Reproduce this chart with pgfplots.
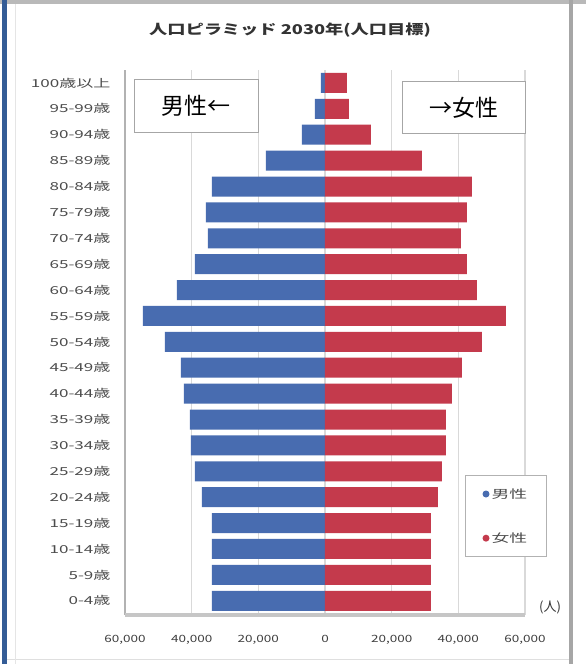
\documentclass[border=0pt]{standalone}
\usepackage{fontspec}
\setmainfont{Noto Sans CJK JP}
\newfontfamily\jpw[FakeStretch=1.35]{Noto Sans CJK JP}
\newfontfamily\jpww[FakeStretch=1.55]{Noto Sans CJK JP}
\usepackage{pgfplots}
\pgfplotsset{compat=1.18}
\usepackage{pgfplotstable}

\definecolor{male}{RGB}{72,108,176}
\definecolor{female}{RGB}{196,58,76}
\definecolor{frameblue}{RGB}{52,92,150}

\pgfplotstableread{
idx male female
0 -33900 31800
1 -33900 31800
2 -33900 31800
3 -33900 31800
4 -36900 33900
5 -39000 35100
6 -40200 36300
7 -40500 36300
8 -42300 38100
9 -43200 41100
10 -48000 47100
11 -54600 54300
12 -44400 45600
13 -39000 42600
14 -35100 40800
15 -35700 42600
16 -33900 44100
17 -17700 29100
18 -6900 13800
19 -3000 7200
20 -1200 6600
}\pyr

\begin{document}
\begin{tikzpicture}
\path[use as bounding box] (0pt,0pt) rectangle (586pt,664pt);
\fill[white] (0pt,0pt) rectangle (586pt,664pt);
% frame
\fill[gray!55] (0pt,660pt) rectangle (586pt,664pt);
\fill[frameblue] (2pt,0pt) rectangle (7pt,664pt);
\fill[gray!70] (569pt,0pt) rectangle (573pt,664pt);
\draw[gray!25,line width=1pt] (7pt,4pt) -- (569pt,4pt);
\draw[gray!20,line width=1pt] (15pt,0pt) -- (15pt,660pt);
% title
\node[font=\jpw\bfseries\fontsize{13.5}{13.5}\selectfont, text=black!80] at (290pt,634pt) {人口ピラミッド 2030年(人口目標)};
\begin{axis}[
  at={(125pt,49pt)}, anchor=south west,
  scale only axis, width=400pt, height=545pt,
  xmin=-60000, xmax=60000, ymin=-0.55, ymax=20.5,
  xbar, bar width=20pt, bar shift=0pt,
  axis line style={draw=none},
  xtick={-60000,-40000,-20000,0,20000,40000,60000},
  xticklabels={{60,000},{40,000},{20,000},{0},{20,000},{40,000},{60,000}},
  ytick={0,...,20},
  yticklabels={0-4歳,5-9歳,10-14歳,15-19歳,20-24歳,25-29歳,30-34歳,35-39歳,40-44歳,45-49歳,50-54歳,55-59歳,60-64歳,65-69歳,70-74歳,75-79歳,80-84歳,85-89歳,90-94歳,95-99歳,100歳以上},
  major tick length=0pt,
  scaled x ticks=false,
  xmajorgrids, major grid style={gray!30, line width=1.5pt},
  /pgf/number format/assume math mode=true,
  xticklabel style={font=\jpw\fontsize{10}{10}\selectfont, text=black!75, yshift=-17pt},
  yticklabel style={font=\jpww\fontsize{11}{11}\selectfont, text=black!70, xshift=-11pt},
  legend style={at={(0.85,0.257)}, anchor=north west, draw=gray!60, line width=1pt,
    font=\jpww\fontsize{11.5}{11.5}\selectfont, text=black!70, inner xsep=17pt, inner ysep=11pt, row sep=29pt},
  legend cell align=left,
  clip=false,
]
\addplot[fill=male, draw=none, legend image code/.code={\fill[male] (5pt,0pt) circle (3.5pt);}] table[x=male, y=idx] {\pyr};
\addlegendentry{男性}
\addplot[fill=female, draw=none, legend image code/.code={\fill[female] (5pt,0pt) circle (3.5pt);}] table[x=female, y=idx] {\pyr};
\addlegendentry{女性}
\draw[gray!60, line width=1.2pt] (axis cs:-60000,-0.55) -- (axis cs:-60000,20.5);
\draw[gray!45, line width=3pt] (axis cs:-60000,-0.55) -- (axis cs:60000,-0.55);
\end{axis}
% text boxes
\node[draw=gray!70, line width=1pt, fill=white, minimum width=124pt, minimum height=53pt, font=\fontsize{23}{23}\selectfont] at (196pt,558pt) {男性←};
\node[draw=gray!70, line width=1pt, fill=white, minimum width=123pt, minimum height=52pt, font=\fontsize{23}{23}\selectfont] at (463.5pt,556pt) {→女性};
\node[font=\fontsize{13}{13}\selectfont, text=black!80] at (550pt,57pt) {(人)};
\end{tikzpicture}
\end{document}
